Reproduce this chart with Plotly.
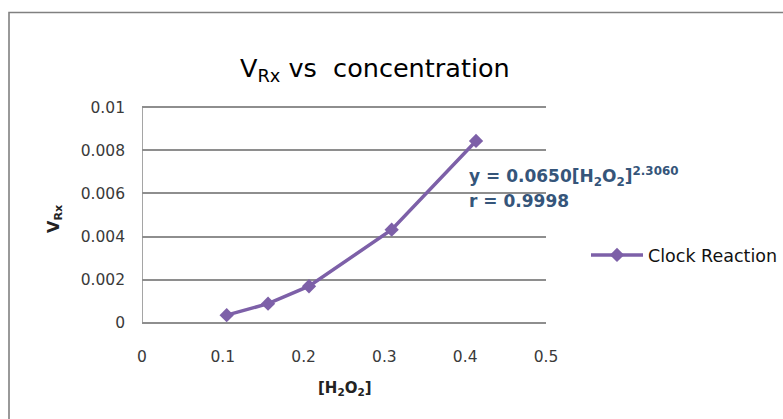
import plotly.graph_objects as go

# Data
conc = [0.1048, 0.1560, 0.2067, 0.3090, 0.4134]
rate = [0.00036, 0.00089, 0.00170, 0.00432, 0.00843]
series_name = "Clock Reaction"

x_ticks = [0, 0.1, 0.2, 0.3, 0.4, 0.5]
x_tick_labels = ["0", "0.1", "0.2", "0.3", "0.4", "0.5"]
y_ticks = [0, 0.002, 0.004, 0.006, 0.008, 0.01]
y_tick_labels = ["0", "0.002", "0.004", "0.006", "0.008", "0.01"]

W, H = 783, 419
L, R, T, B = 142, 237, 106, 95
pw, ph = W - L - R, H - T - B

def px_x(p):
    return (p - L) / pw

def px_y(p):
    return (H - B - p) / ph

purple = "#7D60A8"
grid = "#8E8E8E"
tick_font = dict(family="DejaVu Sans, sans-serif", size=15.5, color="#3A3A3A")

fig = go.Figure()
fig.add_trace(go.Scatter(
    x=conc, y=rate, mode="lines+markers", name=series_name,
    line=dict(color=purple, width=3.5),
    marker=dict(symbol="diamond", size=11, color=purple),
))

pad = 0.00005
fig.update_layout(
    width=W, height=H,
    margin=dict(l=L, r=R, t=T, b=B, pad=0, autoexpand=False),
    paper_bgcolor="white", plot_bgcolor="white",
    showlegend=True,
    legend=dict(x=px_x(586), y=px_y(255), xanchor="left", yanchor="middle",
                font=dict(family="DejaVu Sans, sans-serif", size=17.5, color="#111"),
                bgcolor="rgba(0,0,0,0)", itemwidth=52),
    xaxis=dict(range=[0, 0.5], tickvals=x_ticks, ticktext=x_tick_labels,
               showgrid=False, zeroline=False, showline=False, ticks="",
               tickfont=tick_font, ticklabelstandoff=21, fixedrange=True),
    yaxis=dict(range=[-pad, 0.01 + pad], tickvals=y_ticks, ticktext=y_tick_labels,
               showgrid=True, gridcolor=grid, gridwidth=1.5,
               zeroline=False, showline=False,
               ticks="", tickfont=tick_font, ticklabelstandoff=16, fixedrange=True),
)

# left axis line of the plot area (from 0 to 0.01)
fig.add_shape(type="line", xref="x", yref="y", x0=0, x1=0, y0=0, y1=0.01,
              line=dict(color=grid, width=1.6), layer="below")

# chart-area border
fig.add_shape(type="rect", xref="paper", yref="paper",
              x0=px_x(9), x1=px_x(800), y0=px_y(430), y1=px_y(12.5),
              line=dict(color="#808080", width=1.6), fillcolor="rgba(0,0,0,0)", layer="below")

# title
fig.add_annotation(xref="paper", yref="paper", x=px_x(375), y=px_y(69),
                   xanchor="center", yanchor="middle", showarrow=False,
                   text="V<sub>Rx</sub> vs\u00a0 concentration",
                   font=dict(family="DejaVu Sans, sans-serif", size=25.5, color="#000"))

# axis titles
fig.add_annotation(xref="paper", yref="paper", x=px_x(345), y=px_y(388),
                   xanchor="center", yanchor="middle", showarrow=False,
                   text="<b>[H<sub>2</sub>O<sub>2</sub>]</b>",
                   font=dict(family="DejaVu Sans, sans-serif", size=15, color="#222"))
fig.add_annotation(xref="paper", yref="paper", x=px_x(54), y=px_y(219),
                   xanchor="center", yanchor="middle", showarrow=False, textangle=-90,
                   text="<b>V<sub>Rx</sub></b>",
                   font=dict(family="DejaVu Sans, sans-serif", size=16, color="#222"))

# fit equation
eq_color = "#35557A"
fig.add_annotation(xref="paper", yref="paper", x=px_x(467), y=px_y(176),
                   xanchor="left", yanchor="middle", showarrow=False,
                   text="<b>y = 0.0650[H<sub>2</sub>O<sub>2</sub>]<sup>2.3060</sup></b>",
                   font=dict(family="DejaVu Sans, sans-serif", size=17, color=eq_color))
fig.add_annotation(xref="paper", yref="paper", x=px_x(467), y=px_y(201),
                   xanchor="left", yanchor="middle", showarrow=False,
                   text="<b>r = 0.9998</b>",
                   font=dict(family="DejaVu Sans, sans-serif", size=17, color=eq_color))

fig.write_html("out.html", config={"displayModeBar": False},
               post_script="document.body.style.margin='0';")
